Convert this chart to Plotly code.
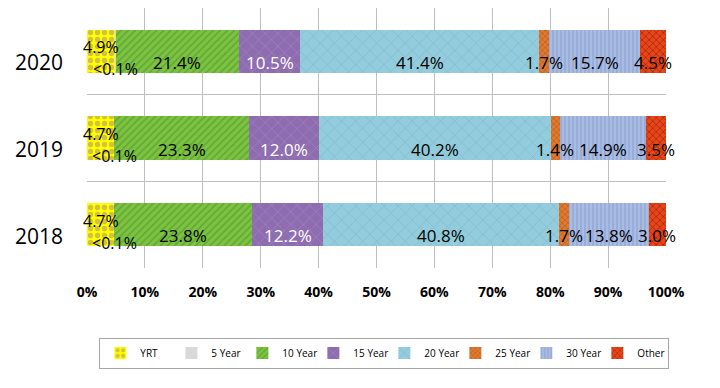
import plotly.graph_objects as go

years = ["2018", "2019", "2020"]
series_names = ["YRT", "5 Year", "10 Year", "15 Year", "20 Year", "25 Year", "30 Year", "Other"]
yrt = [4.7, 4.7, 4.9]
y5 = [0.05, 0.05, 0.05]
y10 = [23.8, 23.3, 21.4]
y15 = [12.2, 12.0, 10.5]
y20 = [40.8, 40.2, 41.4]
y25 = [1.7, 1.4, 1.7]
y30 = [13.8, 14.9, 15.7]
other = [3.0, 3.5, 4.5]
labels = {
    "YRT": ["4.7%", "4.7%", "4.9%"],
    "5 Year": ["&lt;0.1%", "&lt;0.1%", "&lt;0.1%"],
    "10 Year": ["23.8%", "23.3%", "21.4%"],
    "15 Year": ["12.2%", "12.0%", "10.5%"],
    "20 Year": ["40.8%", "40.2%", "41.4%"],
    "25 Year": ["1.7%", "1.4%", "1.7%"],
    "30 Year": ["13.8%", "14.9%", "15.7%"],
    "Other": ["3.0%", "3.5%", "4.5%"],
}
x_ticks = [0, 10, 20, 30, 40, 50, 60, 70, 80, 90, 100]

values = [yrt, y5, y10, y15, y20, y25, y30, other]
styles = [
    dict(bg="#FFFF00", fg="#D2C23C", shape=".", size=7, sol=0.45),
    dict(bg="#D9D9D9", fg="#D9D9D9", shape="", size=8, sol=0.3),
    dict(bg="#7CC243", fg="#62A830", shape="/", size=5, sol=0.3),
    dict(bg="#8E6CB0", fg="#A689C4", shape="x", size=9, sol=0.12),
    dict(bg="#93CDDD", fg="#7DB6C7", shape="x", size=10, sol=0.12),
    dict(bg="#E07A30", fg="#B55A1E", shape="x", size=4, sol=0.3),
    dict(bg="#A9BCE4", fg="#8B9FCC", shape="|", size=4, sol=0.25),
    dict(bg="#E8461A", fg="#A82A08", shape="x", size=5, sol=0.3),
]
text_colors = ["black", "black", "black", "white", "black", "black", "black", "black"]
y_shifts = [4, -18, -11, -11, -11, -11, -11, -11]

FONT = "Open Sans"
fig = go.Figure()
for name, vals, st in zip(series_names, values, styles):
    fig.add_trace(go.Bar(
        y=years, x=vals, name=name, orientation="h",
        marker=dict(color=st["bg"], line=dict(width=0),
                    pattern=dict(shape=st["shape"], fgcolor=st["fg"], bgcolor=st["bg"],
                                 size=st["size"], solidity=st["sol"], fillmode="replace")),
        hoverinfo="skip",
    ))

annotations = []
for j, yr in enumerate(years):
    total = sum(v[j] for v in values)
    cum = 0.0
    for i, name in enumerate(series_names):
        v = values[i][j]
        center = (cum + v / 2) / total * 100
        cum += v
        small = i < 2
        annotations.append(dict(
            x=center, y=j, xref="x", yref="y", text=labels[name][j], showarrow=False,
            yshift=y_shifts[i],
            font=dict(family=FONT, size=16 if small else 17, color=text_colors[i]),
        ))
    # category label (drawn beside the axis, shifted like the reference)
    annotations.append(dict(
        x=0, y=j, xref="paper", yref="y", text=yr, showarrow=False,
        xanchor="right", xshift=-22, yshift=-11,
        font=dict(family=FONT, size=21, color="black"),
    ))

fig.update_layout(
    width=720, height=388,
    barmode="stack", barnorm="percent", bargap=0.5,
    margin=dict(l=87, r=54, t=8, b=120),
    paper_bgcolor="white", plot_bgcolor="white",
    font=dict(family=FONT, color="black"),
    xaxis=dict(range=[0, 100], tickvals=x_ticks, ticktext=[f"<b>{t}%</b>" for t in x_ticks],
               showgrid=True, gridcolor="#BFBFBF", gridwidth=1, zeroline=False,
               tickfont=dict(size=14, family=FONT), ticklabelstandoff=14, fixedrange=True),
    yaxis=dict(type="category", categoryorder="array", categoryarray=years,
               range=[-0.5, 2.5], tickson="boundaries", ticks="", showgrid=True,
               showticklabels=False,
               gridcolor="#BFBFBF", gridwidth=1, fixedrange=True),
    legend=dict(orientation="h", xref="container", x=0.138, xanchor="left",
                yref="container", y=0.13, yanchor="top",
                bordercolor="#A6A6A6", borderwidth=1, font=dict(size=10, family=FONT),
                entrywidth=26, entrywidthmode="pixels", traceorder="normal"),
    annotations=annotations,
    showlegend=True,
)
fig.write_html("out.html", post_script="document.body.style.margin='0';",
               config={"displayModeBar": False})
